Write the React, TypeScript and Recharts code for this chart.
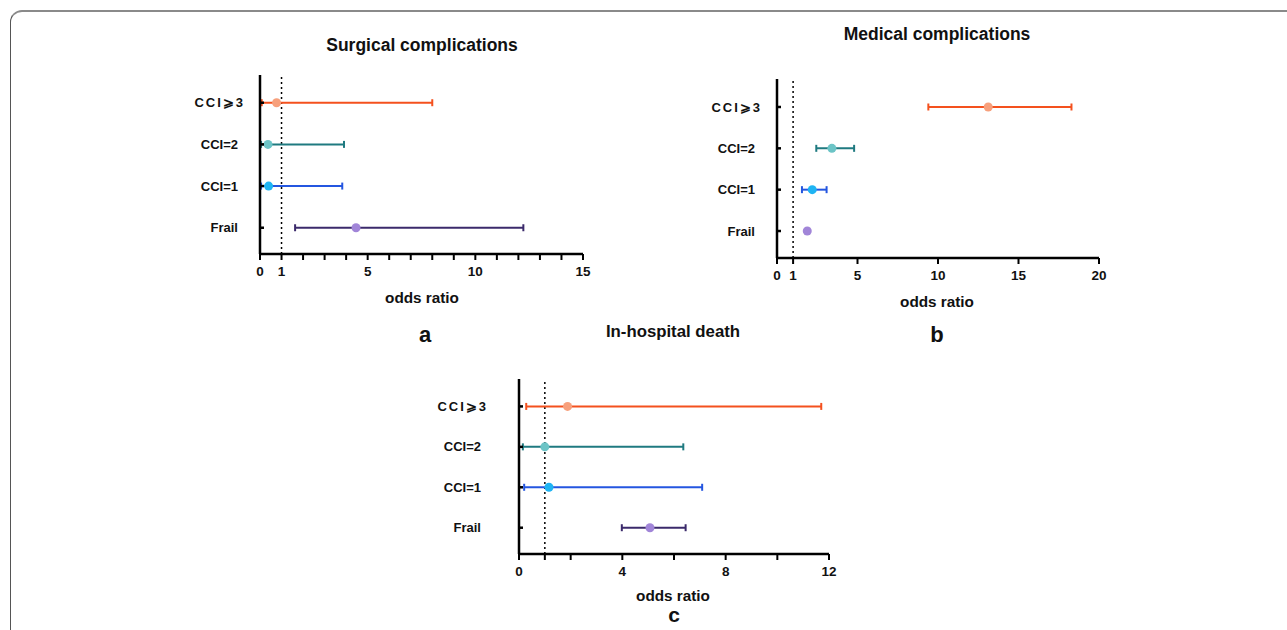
import React from 'react';
import { ScatterChart, Scatter, XAxis, YAxis, ErrorBar, ReferenceLine } from 'recharts';

// Row order: bottom to top
const categories = ['Frail', 'CCI=1', 'CCI=2', 'CCI⩾3'];
const lineColors = ['#3b2a6b', '#2456e0', '#1f7a80', '#f4511e'];
const dotColors = ['#a185d8', '#1fb4f3', '#6cc4c6', '#f7a07c'];

const surgicalOR = [4.46, 0.4, 0.37, 0.77];
const surgicalLow = [1.63, 0.05, 0.05, 0.08];
const surgicalHigh = [12.23, 3.82, 3.9, 8.0];

const medicalOR = [1.88, 2.19, 3.41, 13.12];
const medicalLow = [1.88, 1.55, 2.44, 9.4];
const medicalHigh = [1.88, 3.08, 4.79, 18.29];

const deathOR = [5.07, 1.16, 1.0, 1.88];
const deathLow = [3.98, 0.2, 0.15, 0.28];
const deathHigh = [6.45, 7.09, 6.36, 11.7];

const surgicalTicks = [0, 1, 2, 3, 4, 5, 6, 7, 8, 9, 10, 11, 12, 13, 14, 15];
const surgicalLabels = [0, 1, 5, 10, 15];
const medicalTicks = [0, 1, 5, 10, 15, 20];
const medicalLabels = [0, 1, 5, 10, 15, 20];
const deathTicks = [0, 1, 2, 4, 6, 8, 10, 12];
const deathLabels = [0, 4, 8, 12];

const FONT = '"Liberation Sans", Arial, sans-serif';

type PanelProps = {
  plotLeft: number;
  plotTop: number;
  plotWidth: number;
  plotHeight: number;
  xMax: number;
  ticks: number[];
  labels: number[];
  yDomain: [number, number];
  or: number[];
  low: number[];
  high: number[];
  labelGap: number;
};

function Panel(p: PanelProps) {
  const YW = 110;
  const W = p.plotWidth + YW + 20;
  const H = p.plotHeight + 50;
  const series = categories.map((c, i) => [
    { x: p.or[i], y: i + 1, err: [p.or[i] - p.low[i], p.high[i] - p.or[i]] },
  ]);
  const YTick = (props: any) => {
    const { x, y, payload } = props;
    const idx = Math.round(payload.value) - 1;
    const label = categories[idx];
    const isCCI3 = idx === 3;
    return (
      <g>
        <line x1={x} x2={x + 4} y1={y} y2={y} stroke="#000" strokeWidth={2.5} />
        <text
          x={x - p.labelGap + (isCCI3 ? 7 : 0)}
          y={y}
          dy="0.35em"
          textAnchor="end"
          fontFamily={FONT}
          fontWeight="bold"
          fontSize={13}
          fill="#111"
          letterSpacing={isCCI3 ? 2 : 0}
        >
          {label}
        </text>
      </g>
    );
  };
  return (
    <div style={{ position: 'absolute', left: p.plotLeft - YW, top: p.plotTop - 10 }}>
      <ScatterChart width={W} height={H} margin={{ top: 10, right: 20, bottom: 0, left: 0 }}>
        <XAxis
          type="number"
          dataKey="x"
          domain={[0, p.xMax]}
          ticks={p.ticks}
          interval={0}
          allowDataOverflow
          height={40}
          tickSize={6}
          tickMargin={6}
          axisLine={{ stroke: '#000', strokeWidth: 2.5 }}
          tickLine={{ stroke: '#000', strokeWidth: 2 }}
          tickFormatter={(v: number) => (p.labels.includes(v) ? String(v) : '')}
          tick={{ fontFamily: FONT, fontWeight: 'bold', fontSize: 13.5, fill: '#111' }}
        />
        <YAxis
          type="number"
          dataKey="y"
          domain={p.yDomain}
          ticks={[1, 2, 3, 4]}
          interval={0}
          allowDataOverflow
          width={YW}
          tickSize={0}
          tickMargin={0}
          tickLine={false}
          axisLine={{ stroke: '#000', strokeWidth: 2.5 }}
          tick={<YTick />}
        />
        <ReferenceLine x={1} stroke="#000" strokeWidth={1.5} strokeDasharray="2 3" />
        {series.map((d, i) => (
          <Scatter
            key={i}
            data={d}
            isAnimationActive={false}
            shape={(s: any) => <circle cx={s.cx} cy={s.cy} r={4.5} fill={dotColors[i]} />}
          >
            <ErrorBar
              dataKey="err"
              direction="x"
              width={3.5}
              stroke={lineColors[i]}
              strokeWidth={2}
              isAnimationActive={false}
            />
          </Scatter>
        ))}
      </ScatterChart>
    </div>
  );
}

const titleStyle = { fontFamily: FONT, fontWeight: 'bold' as const, fill: '#111' };

export default function App() {
  return (
    <div
      style={{
        position: 'absolute',
        left: 0,
        top: 0,
        width: 1287,
        height: 630,
        overflow: 'hidden',
        background: '#fff',
      }}
    >
      <div
        style={{
          position: 'absolute',
          left: 10,
          top: 10,
          width: 1300,
          height: 700,
          borderTop: '2px solid #8a8a8a',
          borderLeft: '1px solid #555',
          borderTopLeftRadius: 12,
        }}
      />
      <Panel
        plotLeft={260}
        plotTop={75}
        plotWidth={323}
        plotHeight={179}
        xMax={15}
        ticks={surgicalTicks}
        labels={surgicalLabels}
        yDomain={[0.37, 4.665]}
        or={surgicalOR}
        low={surgicalLow}
        high={surgicalHigh}
        labelGap={22}
      />
      <Panel
        plotLeft={777}
        plotTop={79}
        plotWidth={322}
        plotHeight={179}
        xMax={20}
        ticks={medicalTicks}
        labels={medicalLabels}
        yDomain={[0.347, 4.677]}
        or={medicalOR}
        low={medicalLow}
        high={medicalHigh}
        labelGap={22}
      />
      <Panel
        plotLeft={519}
        plotTop={379}
        plotWidth={310}
        plotHeight={175}
        xMax={12}
        ticks={deathTicks}
        labels={deathLabels}
        yDomain={[0.35, 4.678]}
        or={deathOR}
        low={deathLow}
        high={deathHigh}
        labelGap={38}
      />
      <svg
        width={1287}
        height={630}
        style={{ position: 'absolute', left: 0, top: 0, pointerEvents: 'none' }}
      >
        <text x={422} y={45} textAnchor="middle" dominantBaseline="central" fontSize={17.5} {...titleStyle}>
          Surgical complications
        </text>
        <text x={937} y={34} textAnchor="middle" dominantBaseline="central" fontSize={17.5} {...titleStyle}>
          Medical complications
        </text>
        <text x={673} y={331} textAnchor="middle" dominantBaseline="central" fontSize={16.8} {...titleStyle}>
          In-hospital death
        </text>
        <text x={422} y={297} textAnchor="middle" dominantBaseline="central" fontSize={15.3} {...titleStyle}>
          odds ratio
        </text>
        <text x={937} y={301} textAnchor="middle" dominantBaseline="central" fontSize={15.3} {...titleStyle}>
          odds ratio
        </text>
        <text x={673} y={595} textAnchor="middle" dominantBaseline="central" fontSize={15.3} {...titleStyle}>
          odds ratio
        </text>
        <text x={425} y={336} textAnchor="middle" fontSize={22} {...titleStyle} dominantBaseline="middle">
          a
        </text>
        <text x={937} y={336} textAnchor="middle" fontSize={22} {...titleStyle} dominantBaseline="middle">
          b
        </text>
        <text x={674} y={616} textAnchor="middle" fontSize={21} {...titleStyle} dominantBaseline="middle">
          c
        </text>
      </svg>
    </div>
  );
}
